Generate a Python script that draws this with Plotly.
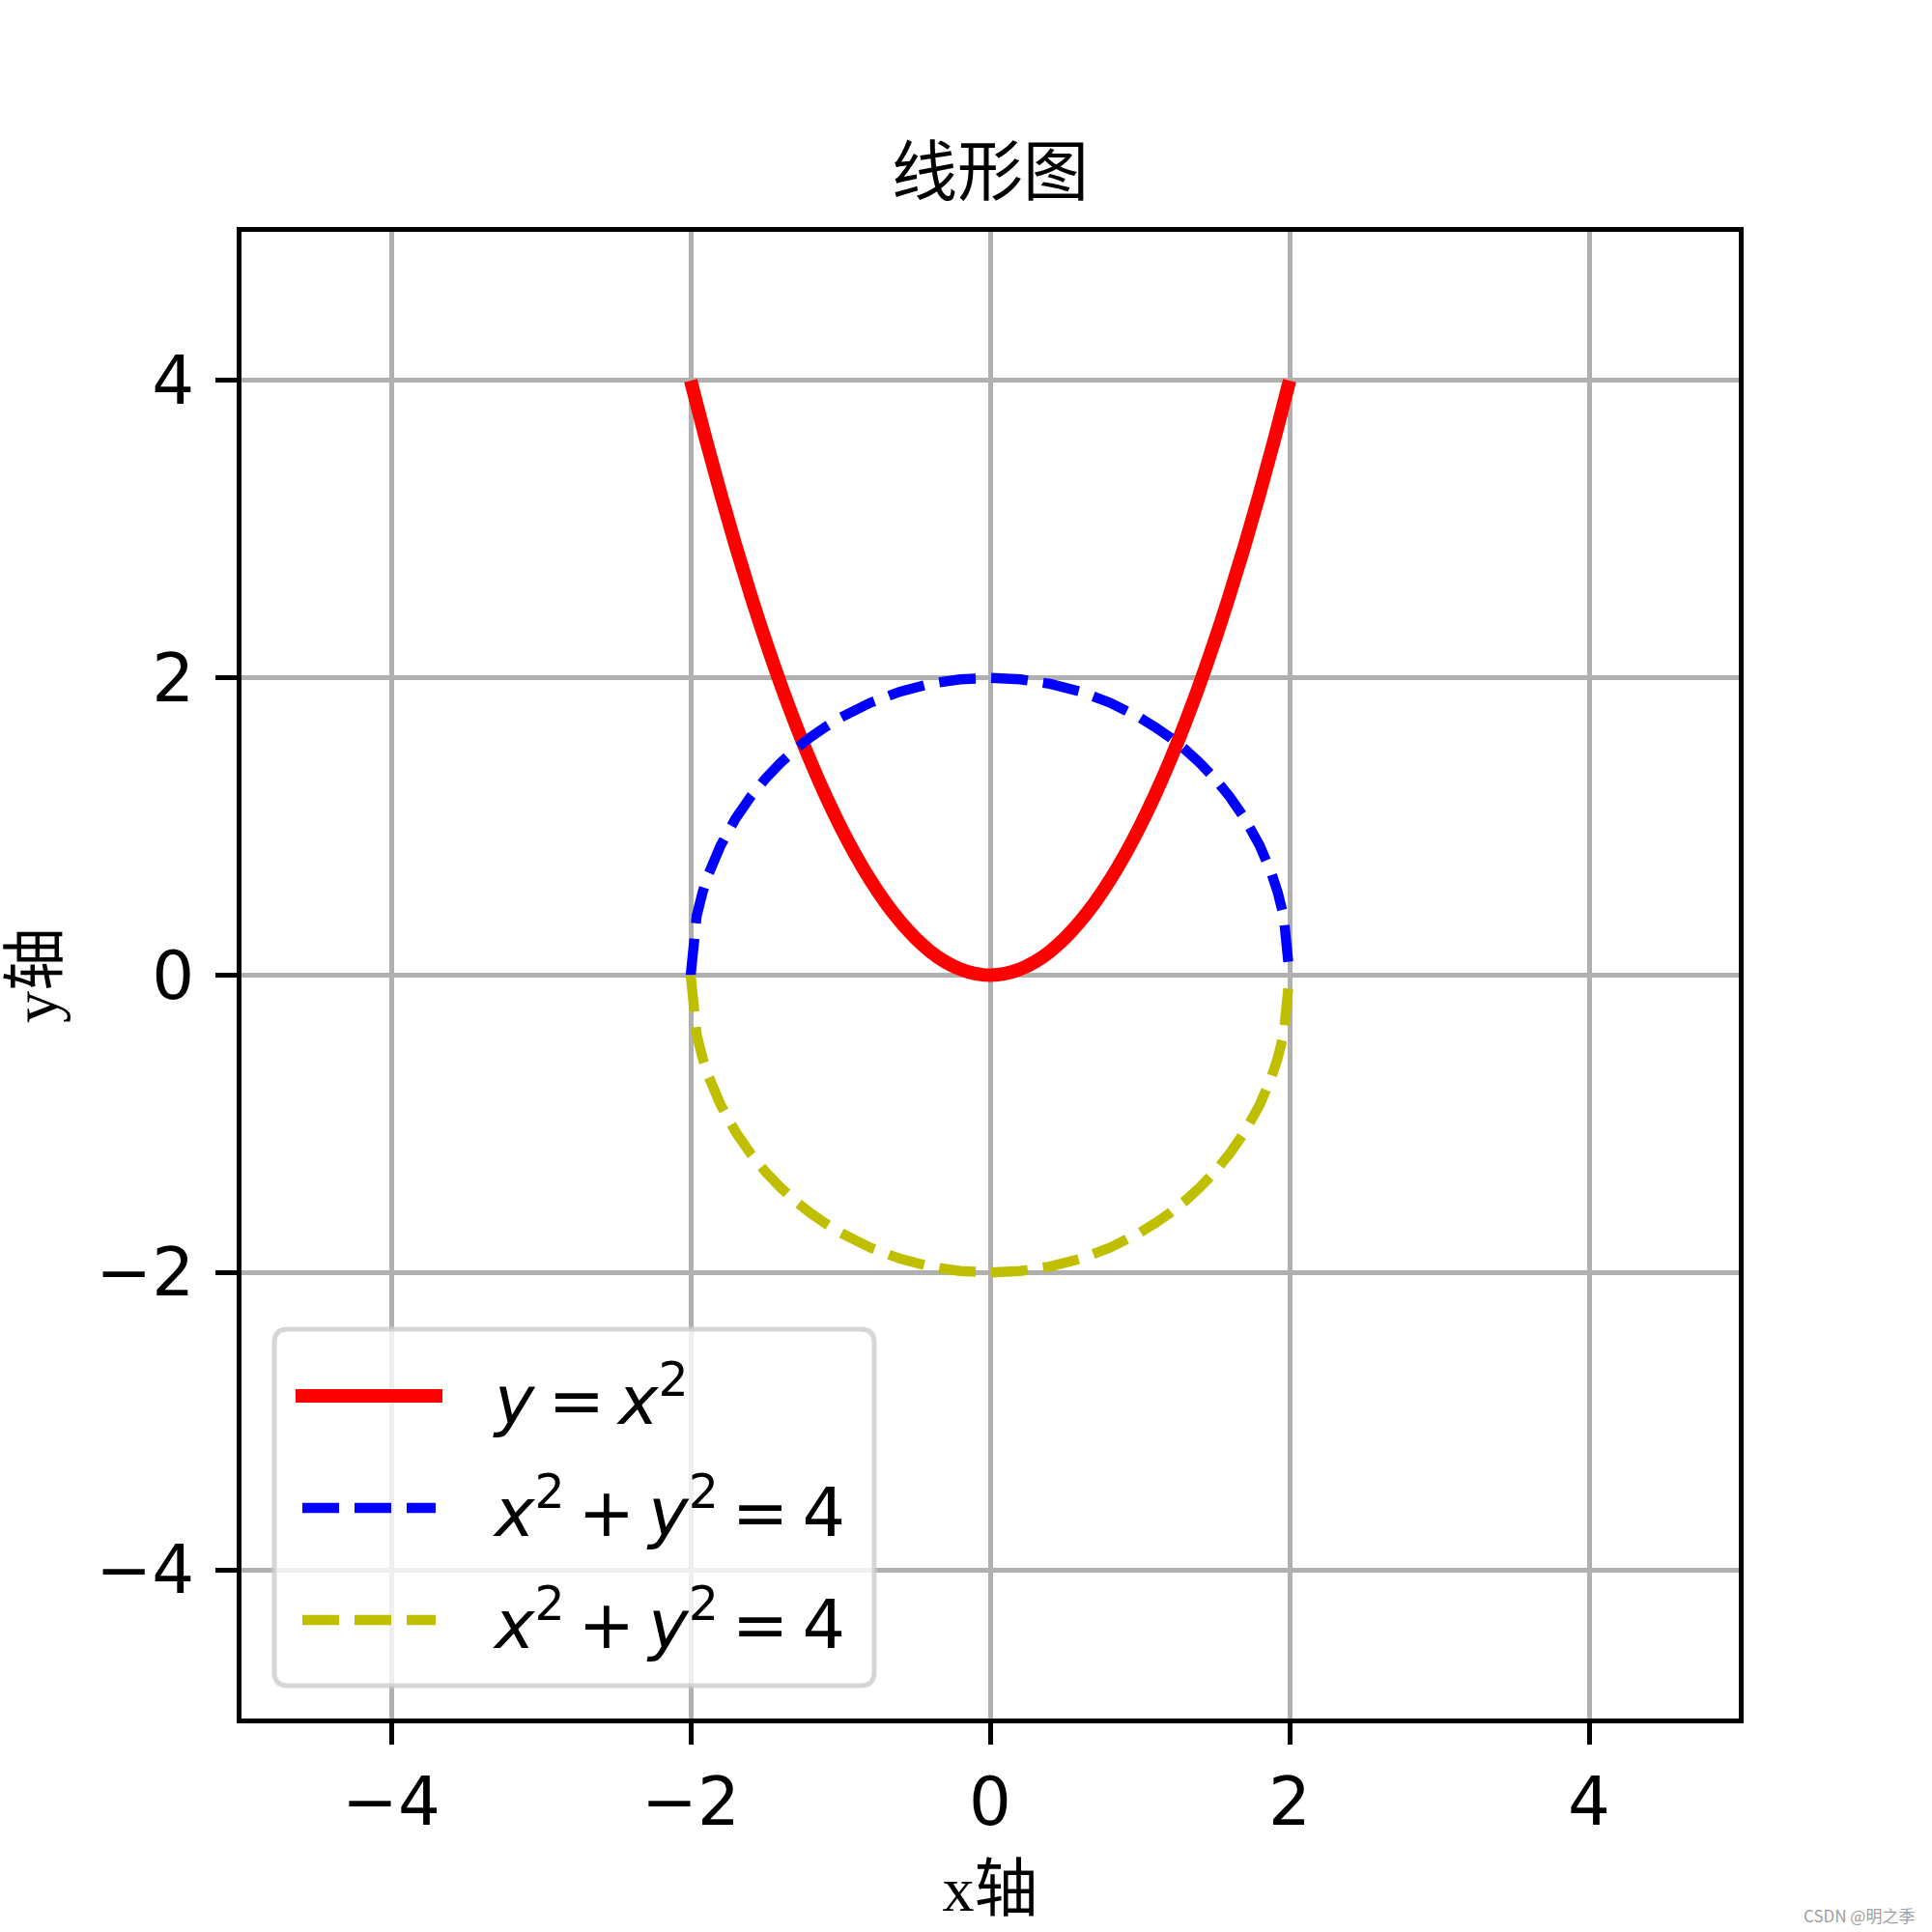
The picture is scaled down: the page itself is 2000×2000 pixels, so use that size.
import plotly.graph_objects as go

# ---------------- data ----------------
PARAB_X = [-2.0, -1.9, -1.8, -1.7, -1.6, -1.5, -1.4, -1.3, -1.2, -1.1, -1.0,
           -0.9, -0.8, -0.7, -0.6, -0.5, -0.4, -0.3, -0.2, -0.1, 0.0,
           0.1, 0.2, 0.3, 0.4, 0.5, 0.6, 0.7, 0.8, 0.9, 1.0,
           1.1, 1.2, 1.3, 1.4, 1.5, 1.6, 1.7, 1.8, 1.9, 2.0]
PARAB_Y = [4.00, 3.61, 3.24, 2.89, 2.56, 2.25, 1.96, 1.69, 1.44, 1.21, 1.00,
           0.81, 0.64, 0.49, 0.36, 0.25, 0.16, 0.09, 0.04, 0.01, 0.00,
           0.01, 0.04, 0.09, 0.16, 0.25, 0.36, 0.49, 0.64, 0.81, 1.00,
           1.21, 1.44, 1.69, 1.96, 2.25, 2.56, 2.89, 3.24, 3.61, 4.00]

CIRCLE_X = [-2.00, -1.96, -1.92, -1.88, -1.80, -1.70, -1.60, -1.50, -1.40, -1.30,
            -1.20, -1.10, -1.00, -0.80, -0.60, -0.40, -0.20, 0.00, 0.20, 0.40,
            0.60, 0.80, 1.00, 1.10, 1.20, 1.30, 1.40, 1.50, 1.60, 1.70,
            1.80, 1.88, 1.92, 1.96, 2.00]
UPPER_Y = [0.000, 0.398, 0.560, 0.682, 0.872, 1.054, 1.200, 1.323, 1.428, 1.520,
           1.600, 1.670, 1.732, 1.833, 1.908, 1.960, 1.990, 2.000, 1.990, 1.960,
           1.908, 1.833, 1.732, 1.670, 1.600, 1.520, 1.428, 1.323, 1.200, 1.054,
           0.872, 0.682, 0.560, 0.398, 0.000]
LOWER_Y = [-0.000, -0.398, -0.560, -0.682, -0.872, -1.054, -1.200, -1.323, -1.428, -1.520,
           -1.600, -1.670, -1.732, -1.833, -1.908, -1.960, -1.990, -2.000, -1.990, -1.960,
           -1.908, -1.833, -1.732, -1.670, -1.600, -1.520, -1.428, -1.323, -1.200, -1.054,
           -0.872, -0.682, -0.560, -0.398, -0.000]

TICK_VALS = [-4, -2, 0, 2, 4]
TICK_TEXT = ["\u22124", "\u22122", "0", "2", "4"]

SERIES_NAMES = ["<i>y</i>\u2009=\u2009<i>x</i><sup>2</sup>",
                "<i>x</i><sup>2</sup>\u2009+\u2009<i>y</i><sup>2</sup>\u2009=\u20094",
                "<i>x</i><sup>2</sup>\u2009+\u2009<i>y</i><sup>2</sup>\u2009=\u20094"]
SERIES_COLORS = ["#ff0000", "#0000ff", "#bfbf00"]

TITLE = "线形图"
X_LABEL = "x轴"
Y_LABEL = "y轴"
WATERMARK = "CSDN @明之季"

# ---------------- layout constants ----------------
W, H = 2000, 2000
L, R, T, B = 250, 200, 240, 221
PW, PH = W - L - R, H - T - B

def px2x(px):
    return (px - L) / PW

def py2y(py):
    return (H - B - py) / PH

SERIF_CJK = "Liberation Serif, Noto Sans CJK SC, serif"
SANS = "DejaVu Sans"
DASH = "38px,16px"

fig = go.Figure()
fig.add_trace(go.Scatter(x=PARAB_X, y=PARAB_Y, mode="lines", name=SERIES_NAMES[0],
                         line=dict(color=SERIES_COLORS[0], width=14, shape="spline",
                                   simplify=False)))
fig.add_trace(go.Scatter(x=CIRCLE_X, y=UPPER_Y, mode="lines", name=SERIES_NAMES[1],
                         line=dict(color=SERIES_COLORS[1], width=10.4, dash=DASH,
                                   simplify=False)))
fig.add_trace(go.Scatter(x=CIRCLE_X, y=LOWER_Y, mode="lines", name=SERIES_NAMES[2],
                         line=dict(color=SERIES_COLORS[2], width=10.4, dash=DASH,
                                   simplify=False)))

axis_common = dict(
    tickmode="array", tickvals=TICK_VALS, ticktext=TICK_TEXT,
    showgrid=True, gridcolor="#b0b0b0", gridwidth=5,
    zeroline=False,
    showline=True, linecolor="black", linewidth=5, mirror=True,
    ticks="outside", ticklen=22, tickwidth=5, tickcolor="black",
    tickfont=dict(family=SANS, size=69, color="black"),
)

fig.update_xaxes(range=[-5, 5], **axis_common,
                 title=dict(text=X_LABEL, font=dict(family=SERIF_CJK, size=66, color="black"),
                            standoff=30))
fig.update_yaxes(range=[-5, 5], **axis_common, ticklabelstandoff=8,
                 title=dict(text=Y_LABEL, font=dict(family=SERIF_CJK, size=66, color="black"),
                            standoff=24))

# ---- manual legend (rounded box like matplotlib) ----
x0, x1 = px2x(284), px2x(905)
y0, y1 = py2y(1745), py2y(1376)
rx, ry = 14 / PW, 14 / PH
path = (f"M {x0+rx},{y1} L {x1-rx},{y1} Q {x1},{y1} {x1},{y1-ry} "
        f"L {x1},{y0+ry} Q {x1},{y0} {x1-rx},{y0} L {x0+rx},{y0} "
        f"Q {x0},{y0} {x0},{y0+ry} L {x0},{y1-ry} Q {x0},{y1} {x0+rx},{y1} Z")
shapes = [dict(type="path", xref="paper", yref="paper", path=path,
               fillcolor="rgba(255,255,255,0.8)",
               line=dict(color="rgba(204,204,204,0.8)", width=5), layer="above")]

rows_y = [1445, 1561, 1677]
sample_x = [(306, 458), (313, 451), (313, 451)]
widths = [14, 10.4, 10.4]
dashes = ["solid", DASH, DASH]
annotations = []
for i in range(3):
    sx0, sx1 = sample_x[i]
    shapes.append(dict(type="line", xref="paper", yref="paper",
                       x0=px2x(sx0), x1=px2x(sx1), y0=py2y(rows_y[i]), y1=py2y(rows_y[i]),
                       line=dict(color=SERIES_COLORS[i], width=widths[i], dash=dashes[i]),
                       layer="above"))
    annotations.append(dict(xref="paper", yref="paper", x=px2x(508), y=py2y(rows_y[i]),
                            xanchor="left", yanchor="middle", text=SERIES_NAMES[i],
                            showarrow=False, font=dict(family=SANS, size=70, color="black")))

annotations.append(dict(xref="paper", yref="paper", x=px2x(1984), y=py2y(1982),
                        xanchor="right", yanchor="middle", text=WATERMARK, showarrow=False,
                        font=dict(family="Noto Sans CJK SC", size=17, color="#a0a0a0")))

fig.update_layout(
    width=W, height=H,
    margin=dict(l=L, r=R, t=T, b=B, autoexpand=False),
    paper_bgcolor="white", plot_bgcolor="white",
    showlegend=False,
    title=dict(text=TITLE, x=0.5, xref="paper", xanchor="center",
               y=1 - 178 / H, yref="container", yanchor="middle",
               font=dict(family=SERIF_CJK, size=68, color="black")),
    shapes=shapes,
    annotations=annotations,
)

fig.write_html("out.html", config={"displayModeBar": False},
               post_script="document.body.style.margin='0';")
